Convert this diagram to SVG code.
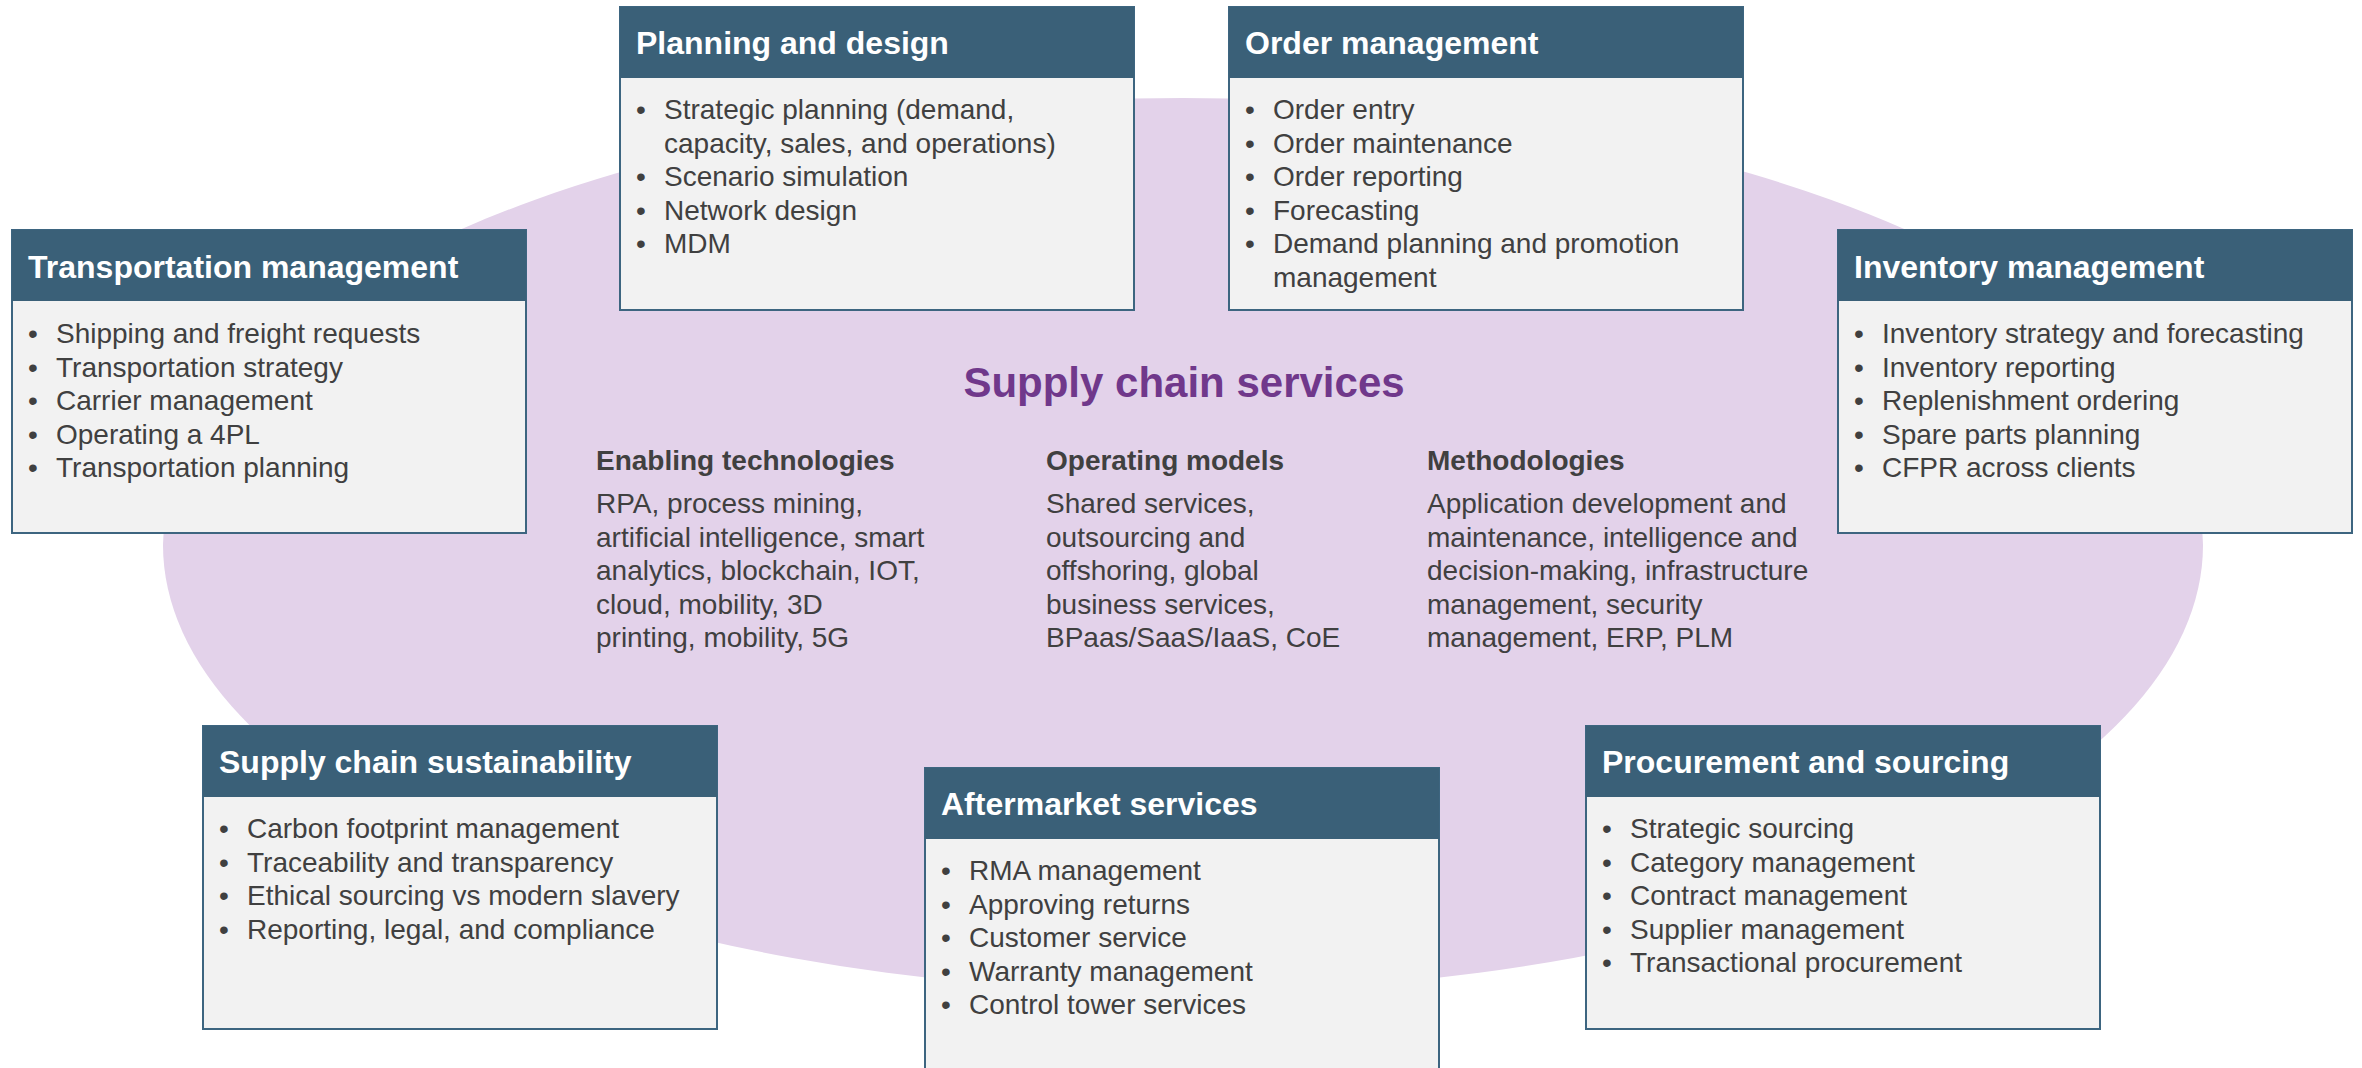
<svg xmlns="http://www.w3.org/2000/svg" width="2362" height="1068" viewBox="0 0 2362 1068">
<style>
.bg{fill:#FFFFFF}
.ell{fill:#E3D2EA}
.box{fill:#F2F2F2;stroke:#3D6580;stroke-width:2}
.hdr{fill:#3A6078}
.ttl{font-family:"Liberation Sans",Arial,sans-serif;font-weight:bold;font-size:32px;fill:#FFFFFF}
.itm{font-family:"Liberation Sans",Arial,sans-serif;font-size:28px;fill:#404040}
.main{font-family:"Liberation Sans",Arial,sans-serif;font-weight:bold;font-size:42px;fill:#70388B}
.colh{font-family:"Liberation Sans",Arial,sans-serif;font-weight:bold;font-size:28px;fill:#404040}
</style>
<rect class="bg" x="0" y="0" width="2362" height="1068"/>
<g id="hub">
<ellipse class="ell" cx="1183" cy="545" rx="1020" ry="447"/>
<text class="main" x="1184" y="397" text-anchor="middle">Supply chain services</text>
<text class="colh" x="596" y="470">Enabling technologies</text>
<text class="itm" x="596" y="513">RPA, process mining,</text>
<text class="itm" x="596" y="546.5">artificial intelligence, smart</text>
<text class="itm" x="596" y="580">analytics, blockchain, IOT,</text>
<text class="itm" x="596" y="613.5">cloud, mobility, 3D</text>
<text class="itm" x="596" y="647">printing, mobility, 5G</text>
<text class="colh" x="1046" y="470">Operating models</text>
<text class="itm" x="1046" y="513">Shared services,</text>
<text class="itm" x="1046" y="546.5">outsourcing and</text>
<text class="itm" x="1046" y="580">offshoring, global</text>
<text class="itm" x="1046" y="613.5">business services,</text>
<text class="itm" x="1046" y="647">BPaas/SaaS/IaaS, CoE</text>
<text class="colh" x="1427" y="470">Methodologies</text>
<text class="itm" x="1427" y="513">Application development and</text>
<text class="itm" x="1427" y="546.5">maintenance, intelligence and</text>
<text class="itm" x="1427" y="580">decision-making, infrastructure</text>
<text class="itm" x="1427" y="613.5">management, security</text>
<text class="itm" x="1427" y="647">management, ERP, PLM</text>
</g>
<g id="connectors"></g>
<g id="transportation" transform="translate(12,230)">
<rect class="box" x="0" y="0" width="514" height="303"/>
<rect class="hdr" x="0" y="0" width="514" height="71"/>
<text class="ttl" x="16" y="48">Transportation management</text>
<text class="itm" x="16" y="113">•</text><text class="itm" x="44" y="113">Shipping and freight requests</text>
<text class="itm" x="16" y="146.5">•</text><text class="itm" x="44" y="146.5">Transportation strategy</text>
<text class="itm" x="16" y="180">•</text><text class="itm" x="44" y="180">Carrier management</text>
<text class="itm" x="16" y="213.5">•</text><text class="itm" x="44" y="213.5">Operating a 4PL</text>
<text class="itm" x="16" y="247">•</text><text class="itm" x="44" y="247">Transportation planning</text>
</g>
<g id="planning" transform="translate(620,7)">
<rect class="box" x="0" y="0" width="514" height="303"/>
<rect class="hdr" x="0" y="0" width="514" height="71"/>
<text class="ttl" x="16" y="47">Planning and design</text>
<text class="itm" x="16" y="112">•</text><text class="itm" x="44" y="112">Strategic planning (demand,</text>
<text class="itm" x="44" y="145.5">capacity, sales, and operations)</text>
<text class="itm" x="16" y="179">•</text><text class="itm" x="44" y="179">Scenario simulation</text>
<text class="itm" x="16" y="212.5">•</text><text class="itm" x="44" y="212.5">Network design</text>
<text class="itm" x="16" y="246">•</text><text class="itm" x="44" y="246">MDM</text>
</g>
<g id="order" transform="translate(1229,7)">
<rect class="box" x="0" y="0" width="514" height="303"/>
<rect class="hdr" x="0" y="0" width="514" height="71"/>
<text class="ttl" x="16" y="47">Order management</text>
<text class="itm" x="16" y="112">•</text><text class="itm" x="44" y="112">Order entry</text>
<text class="itm" x="16" y="145.5">•</text><text class="itm" x="44" y="145.5">Order maintenance</text>
<text class="itm" x="16" y="179">•</text><text class="itm" x="44" y="179">Order reporting</text>
<text class="itm" x="16" y="212.5">•</text><text class="itm" x="44" y="212.5">Forecasting</text>
<text class="itm" x="16" y="246">•</text><text class="itm" x="44" y="246">Demand planning and promotion</text>
<text class="itm" x="44" y="279.5">management</text>
</g>
<g id="inventory" transform="translate(1838,230)">
<rect class="box" x="0" y="0" width="514" height="303"/>
<rect class="hdr" x="0" y="0" width="514" height="71"/>
<text class="ttl" x="16" y="48">Inventory management</text>
<text class="itm" x="16" y="113">•</text><text class="itm" x="44" y="113">Inventory strategy and forecasting</text>
<text class="itm" x="16" y="146.5">•</text><text class="itm" x="44" y="146.5">Inventory reporting</text>
<text class="itm" x="16" y="180">•</text><text class="itm" x="44" y="180">Replenishment ordering</text>
<text class="itm" x="16" y="213.5">•</text><text class="itm" x="44" y="213.5">Spare parts planning</text>
<text class="itm" x="16" y="247">•</text><text class="itm" x="44" y="247">CFPR across clients</text>
</g>
<g id="sustainability" transform="translate(203,726)">
<rect class="box" x="0" y="0" width="514" height="303"/>
<rect class="hdr" x="0" y="0" width="514" height="71"/>
<text class="ttl" x="16" y="47">Supply chain sustainability</text>
<text class="itm" x="16" y="112">•</text><text class="itm" x="44" y="112">Carbon footprint management</text>
<text class="itm" x="16" y="145.5">•</text><text class="itm" x="44" y="145.5">Traceability and transparency</text>
<text class="itm" x="16" y="179">•</text><text class="itm" x="44" y="179">Ethical sourcing vs modern slavery</text>
<text class="itm" x="16" y="212.5">•</text><text class="itm" x="44" y="212.5">Reporting, legal, and compliance</text>
</g>
<g id="aftermarket" transform="translate(925,768)">
<rect class="box" x="0" y="0" width="514" height="320"/>
<rect class="hdr" x="0" y="0" width="514" height="71"/>
<text class="ttl" x="16" y="47">Aftermarket services</text>
<text class="itm" x="16" y="112">•</text><text class="itm" x="44" y="112">RMA management</text>
<text class="itm" x="16" y="145.5">•</text><text class="itm" x="44" y="145.5">Approving returns</text>
<text class="itm" x="16" y="179">•</text><text class="itm" x="44" y="179">Customer service</text>
<text class="itm" x="16" y="212.5">•</text><text class="itm" x="44" y="212.5">Warranty management</text>
<text class="itm" x="16" y="246">•</text><text class="itm" x="44" y="246">Control tower services</text>
</g>
<g id="procurement" transform="translate(1586,726)">
<rect class="box" x="0" y="0" width="514" height="303"/>
<rect class="hdr" x="0" y="0" width="514" height="71"/>
<text class="ttl" x="16" y="47">Procurement and sourcing</text>
<text class="itm" x="16" y="112">•</text><text class="itm" x="44" y="112">Strategic sourcing</text>
<text class="itm" x="16" y="145.5">•</text><text class="itm" x="44" y="145.5">Category management</text>
<text class="itm" x="16" y="179">•</text><text class="itm" x="44" y="179">Contract management</text>
<text class="itm" x="16" y="212.5">•</text><text class="itm" x="44" y="212.5">Supplier management</text>
<text class="itm" x="16" y="246">•</text><text class="itm" x="44" y="246">Transactional procurement</text>
</g>
</svg>
